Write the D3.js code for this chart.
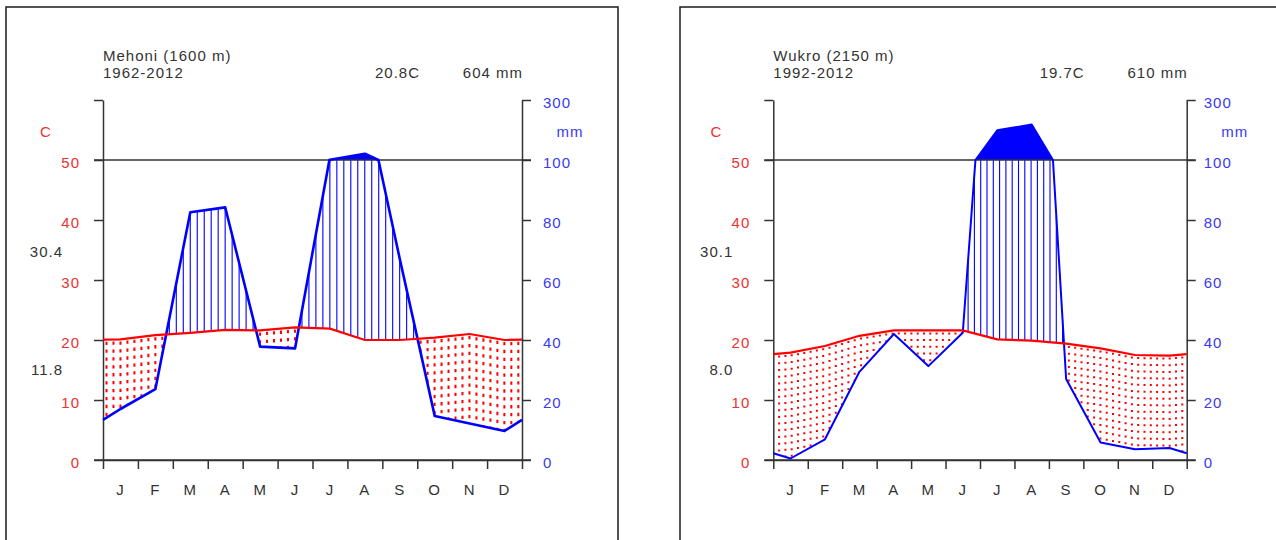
<!DOCTYPE html>
<html>
<head>
<meta charset="utf-8">
<script src="https://cdn.jsdelivr.net/npm/d3@7"></script>
<style>
  body { margin: 0; background: #fff; }
  text { font-family: "Liberation Sans", Arial, sans-serif; font-size: 15px; letter-spacing: 1px; }
</style>
</head>
<body>
<div id="chart"></div>
<script>
// month labels and axis ticks
var months = ["J","F","M","A","M","J","J","A","S","O","N","D"];
var tempTicks = [0,10,20,30,40,50,60];
var precTicks = [0,20,40,60,80,100,300];

// Mehoni (1600 m), 1962-2012
var mehoniTemp = [20.1,20.8,21.2,21.7,21.6,22.1,21.9,20.0,20.0,20.4,21.0,20.0];
var mehoniPrec = [17,23.6,82.6,84.2,37.8,37.2,101,121,67,14.7,12.2,9.7];

// Wukro (2150 m), 1992-2012
var wukroTemp = [17.9,19.0,20.7,21.6,21.6,21.6,20.1,19.9,19.4,18.6,17.5,17.4];
var wukroPrec = [0.5,6.9,29.4,42,31.3,42.4,199,218,27,5.8,3.6,4];

var width = 1276, height = 540;
var red = "#ff0000", blue = "#0000ff", ink = "#333";

var svg = d3.select("#chart")
  .append("svg")
    .attr("width", width)
    .attr("height", height);

var panels = [
  {name: "Mehoni (1600 m)", years: "1962-2012", meanT: "20.8C", totalP: "604 mm", maxT: "30.4", minT: "11.8",
   temp: mehoniTemp, prec: mehoniPrec,
   frameX: 6, frameW: 612, left: 103, right: 522, rPad: 12,
   step: 6.98, offset: 3.5, lw: 2.6, dash: "3.3 4.6"},
  {name: "Wukro (2150 m)", years: "1992-2012", meanT: "19.7C", totalP: "610 mm", maxT: "30.1", minT: "8.0",
   temp: wukroTemp, prec: wukroPrec,
   frameX: 680, frameW: 700, left: 773.3, right: 1186.7, rPad: 8,
   step: 6.3, offset: 5.8, lw: 2, dash: "2 4.7"}
];

function drawPanel(p) {
  var g = svg.append("g");

  // frame
  g.append("rect")
    .attr("x", p.frameX).attr("y", 7)
    .attr("width", p.frameW).attr("height", 700)
    .attr("fill", "none").attr("stroke", "#1a1a1a").attr("stroke-width", 1.5);

  var x = d3.scaleLinear().domain([0, 12]).range([p.left, p.right]);
  var yT = d3.scaleLinear().domain([0, 60]).range([460, 100]);
  // precipitation: 2 mm per degree up to 100 mm, compressed above
  var yP = d3.scaleLinear().domain([0, 100, 300]).range([460, 160, 100]);

  // monthly values at mid-month, edges = mean of Dec and Jan
  var knots = [0].concat(d3.range(12).map(function(i) { return i + 0.5; }), [12]);
  var edgeT = (p.temp[0] + p.temp[11]) / 2;
  var edgeP = (p.prec[0] + p.prec[11]) / 2;
  var tAt = d3.scaleLinear().domain(knots).range([edgeT].concat(p.temp, [edgeT]));
  var pAt = d3.scaleLinear().domain(knots).range([edgeP].concat(p.prec, [edgeP]));

  // hatching: humid (blue lines) and dry (red dots)
  var hx = d3.range(p.offset, p.right - p.left, p.step).map(function(d) {
    var m = x.invert(p.left + d);
    return {px: p.left + d, t: tAt(m), pr: pAt(m)};
  });

  g.selectAll(".wet")
    .data(hx.filter(function(d) { return d.pr / 2 > d.t; }))
    .join("line")
      .attr("x1", function(d) { return d.px; })
      .attr("x2", function(d) { return d.px; })
      .attr("y1", function(d) { return yT(d.t); })
      .attr("y2", function(d) { return yP(Math.min(d.pr, 100)); })
      .attr("stroke", blue).attr("stroke-width", 1.1);

  g.selectAll(".dry")
    .data(hx.filter(function(d) { return d.pr / 2 < d.t; }))
    .join("line")
      .attr("x1", function(d) { return d.px; })
      .attr("x2", function(d) { return d.px; })
      .attr("y1", function(d) { return yT(d.t) + 2; })
      .attr("y2", function(d) { return yP(d.pr); })
      .attr("stroke", red).attr("stroke-width", 2)
      .attr("stroke-dasharray", p.dash);

  // precipitation vertices, with crossings of 100 mm added
  var pv = [];
  knots.forEach(function(k, i) {
    var v = pAt(k);
    if (i > 0) {
      var k0 = knots[i - 1], v0 = pAt(k0);
      if ((v0 - 100) * (v - 100) < 0) {
        pv.push([k0 + (100 - v0) / (v - v0) * (k - k0), 100]);
      }
    }
    pv.push([k, v]);
  });

  // above 100 mm: solid fill
  g.append("path")
    .datum(pv)
    .attr("fill", blue)
    .attr("d", d3.area()
      .defined(function(d) { return d[1] >= 100; })
      .x(function(d) { return x(d[0]); })
      .y0(yP(100))
      .y1(function(d) { return yP(d[1]); }));

  // axes
  var axisL = g.append("g")
    .attr("transform", "translate(" + p.left + ",0)")
    .call(d3.axisLeft(yT).tickValues(tempTicks).tickSize(9).tickSizeOuter(0).tickPadding(14)
      .tickFormat(function(d) { return d == 60 ? "" : d; }));
  axisL.selectAll("text").attr("fill", "#ee3030").attr("dy", "0.47em");

  var axisR = g.append("g")
    .attr("transform", "translate(" + p.right + ",0)")
    .call(d3.axisRight(yP).tickValues(precTicks).tickSize(9).tickSizeOuter(0).tickPadding(p.rPad));
  axisR.selectAll("text").attr("fill", "#3a3aee").attr("dy", "0.47em");

  var axisB = g.append("g")
    .attr("transform", "translate(0,460)")
    .call(d3.axisBottom(x).tickValues(d3.range(13)).tickSize(9).tickSizeOuter(0).tickFormat(""));

  [axisL, axisR, axisB].forEach(function(a) {
    a.selectAll("path, line").attr("stroke", ink).attr("stroke-width", 1.5);
    a.selectAll("text").style("font-size", "15px").attr("font-family", null);
  });

  // 0 and 50 C / 100 mm reference lines
  g.selectAll(".ref")
    .data([0, 50])
    .join("line")
      .attr("x1", p.left - 9).attr("x2", p.right + 9)
      .attr("y1", function(d) { return yT(d); })
      .attr("y2", function(d) { return yT(d); })
      .attr("stroke", ink).attr("stroke-width", 1.5);

  // precipitation and temperature curves
  g.append("path")
    .datum(pv)
    .attr("fill", "none").attr("stroke", blue).attr("stroke-width", p.lw)
    .attr("stroke-linejoin", "round")
    .attr("d", d3.line()
      .x(function(d) { return x(d[0]); })
      .y(function(d) { return yP(d[1]); }));

  g.append("path")
    .datum(knots)
    .attr("fill", "none").attr("stroke", red).attr("stroke-width", 2.2)
    .attr("d", d3.line()
      .x(function(d) { return x(d); })
      .y(function(d) { return yT(tAt(d)); }));

  // month labels
  g.selectAll(".month")
    .data(months)
    .join("text")
      .attr("x", function(d, i) { return x(i + 0.5); })
      .attr("y", 495)
      .attr("text-anchor", "middle")
      .attr("fill", ink)
      .text(function(d) { return d; });

  // header and side texts
  g.append("text").attr("x", p.left).attr("y", 60.5).attr("fill", ink).text(p.name);
  g.append("text").attr("x", p.left).attr("y", 78).attr("fill", ink).text(p.years);
  g.append("text").attr("x", p.right - 102).attr("y", 78).attr("text-anchor", "end").attr("fill", ink).text(p.meanT);
  g.append("text").attr("x", p.right + 1).attr("y", 78).attr("text-anchor", "end").attr("fill", ink).text(p.totalP);
  g.append("text").attr("x", p.left - 57).attr("y", 137).attr("text-anchor", "middle").attr("fill", "#ee3030").text("C");
  g.append("text").attr("x", p.right + 48).attr("y", 137).attr("text-anchor", "middle").attr("fill", "#3a3aee").text("mm");
  g.append("text").attr("x", p.left - 40).attr("y", 257).attr("text-anchor", "end").attr("fill", ink).text(p.maxT);
  g.append("text").attr("x", p.left - 40).attr("y", 375).attr("text-anchor", "end").attr("fill", ink).text(p.minT);
}

panels.forEach(drawPanel);
</script>
</body>
</html>
